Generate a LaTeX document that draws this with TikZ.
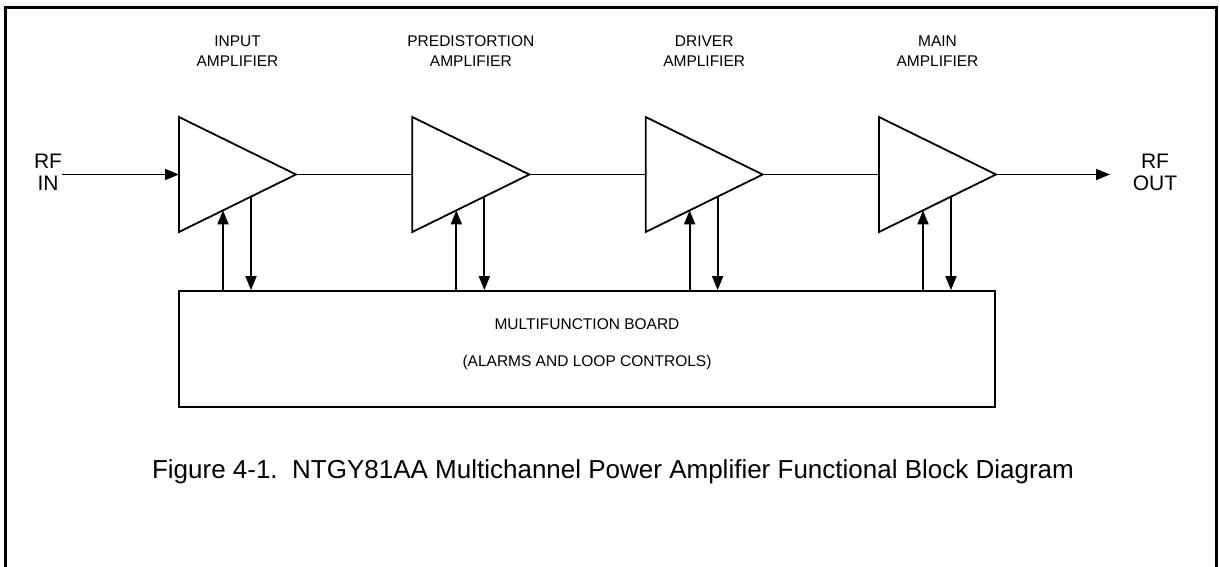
\documentclass[tikz,border=0pt]{standalone}
\usepackage{fontspec}
\setmainfont{Liberation Sans}
\usetikzlibrary{arrows.meta,calc}
\begin{document}
\begin{tikzpicture}[x=1pt,y=-1pt,
  frame/.style={line width=2.6pt},
  wire/.style={line width=1.8pt},
  amp/.style={line width=1.8pt, line join=miter},
  sig/.style={line width=1.8pt,-{Triangle[length=14pt,width=11pt]}},
  lbl/.style={align=center, inner sep=0pt, anchor=north, font=\fontsize{15.5}{20}\selectfont},
  rf/.style={align=center, inner sep=0pt, anchor=north, font=\fontsize{21}{22.5}\selectfont},
  boardbox/.style={draw, line width=1.8pt, inner sep=0pt, minimum width=816pt, minimum height=116pt},
  boardtext/.style={align=center, inner sep=0pt, anchor=north, font=\fontsize{15.5}{37}\selectfont},
  captext/.style={inner sep=0pt, anchor=base, font=\fontsize{26}{30}\selectfont}
]
\useasboundingbox (0,0) rectangle (1220,567);
% outer frame (open at the bottom)
\draw[frame] (5.3,567) -- (5.3,7.5) -- (1216.7,7.5) -- (1216.7,567);

% multifunction board
\node[boardbox] (board) at (587,349) {};
\node[boardtext] (boardtxt) at (587,318) {MULTIFUNCTION BOARD\\(ALARMS AND LOOP CONTROLS)};

% amplifiers
\foreach \i/\txt in {1/{INPUT\\AMPLIFIER},2/{PREDISTORTION\\AMPLIFIER},3/{DRIVER\\AMPLIFIER},4/{MAIN\\AMPLIFIER}} {
  \pgfmathsetmacro\L{179+(\i-1)*233.33}
  \coordinate (t\i-w) at (\L,174.5);
  \coordinate (t\i-tl) at (\L,117);
  \coordinate (t\i-bl) at (\L,232);
  \coordinate (t\i-e) at (\L+117,174.5);
  \draw[amp] (t\i-tl) -- (t\i-e) -- (t\i-bl) -- cycle;
  \node[lbl] (lab\i) at (\L+58.5,35.3) {\txt};
  \coordinate (t\i-up) at ($(t\i-bl)!44/117!(t\i-e)$);
  \coordinate (t\i-dn) at ($(t\i-bl)!72/117!(t\i-e)$);
  \draw[sig] (t\i-up |- board.north) -- (t\i-up);
  \draw[sig] (t\i-dn) -- (t\i-dn |- board.north);
}

% chain
\draw[wire] (t1-e) -- (t2-w);
\draw[wire] (t2-e) -- (t3-w);
\draw[wire] (t3-e) -- (t4-w);

% RF in / out
\node[rf] (rfin) at (48,153.5) {RF\\IN};
\draw[sig] (rfin.east |- t1-w) -- (t1-w);
\node[rf] (rfout) at (1155,153.5) {RF\\OUT};
\coordinate (outend) at (1110,174.5);
\draw[sig] (t4-e) -- (outend);

% caption
\node[captext] (cap) at (613,478) {Figure 4-1.~~NTGY81AA Multichannel Power Amplifier Functional Block Diagram};
\end{tikzpicture}
\end{document}
